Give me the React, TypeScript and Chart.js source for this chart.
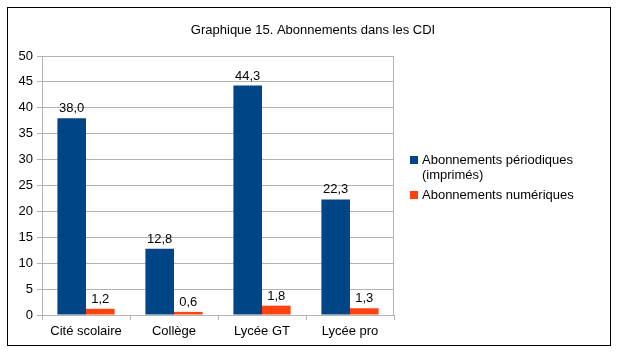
import React, { useEffect, useRef } from "react";
import { Chart, registerables } from "chart.js";

Chart.register(...registerables);

const categories = ["Cité scolaire", "Collège", "Lycée GT", "Lycée pro"];
const periodiques = [38.0, 12.8, 44.3, 22.3];
const numeriques = [1.2, 0.6, 1.8, 1.3];
const seriesNames = [["Abonnements périodiques", "(imprimés)"], ["Abonnements numériques"]];
const titleText = "Graphique 15. Abonnements dans les CDI";
const colors = ["#004586", "#ff420e"];

const FONT = "'Liberation Sans', Arial, sans-serif";

const decor = {
  id: "decor",
  beforeDraw(chart: any) {
    const ctx = chart.ctx;
    ctx.save();
    ctx.fillStyle = "#ffffff";
    ctx.fillRect(0, 0, chart.width, chart.height);
    ctx.restore();
  },
  afterDraw(chart: any) {
    const ctx = chart.ctx;
    const area = chart.chartArea;
    ctx.save();
    // outer border
    ctx.strokeStyle = "#000000";
    ctx.lineWidth = 1;
    ctx.strokeRect(7.5, 7.5, 603, 338);
    // right plot edge
    ctx.strokeStyle = "#b3b3b3";
    ctx.beginPath();
    ctx.moveTo(Math.round(area.right) - 0.5, area.top);
    ctx.lineTo(Math.round(area.right) - 0.5, area.bottom);
    ctx.stroke();
    // title
    ctx.fillStyle = "#000000";
    ctx.font = `13px ${FONT}`;
    ctx.textAlign = "center";
    ctx.textBaseline = "middle";
    ctx.fillText(titleText, 313, 30);
    // data labels
    ctx.font = `13px ${FONT}`;
    ctx.textBaseline = "alphabetic";
    chart.data.datasets.forEach((ds: any, di: number) => {
      const meta = chart.getDatasetMeta(di);
      meta.data.forEach((bar: any, i: number) => {
        const v = ds.data[i];
        ctx.fillText(v.toFixed(1).replace(".", ","), bar.x, bar.y - 6);
      });
    });
    // legend
    ctx.textAlign = "left";
    ctx.textBaseline = "middle";
    let y = 160;
    seriesNames.forEach((lines, i) => {
      ctx.fillStyle = colors[i];
      ctx.fillRect(410, y - 4, 8, 8);
      ctx.fillStyle = "#000000";
      lines.forEach((ln, j) => {
        ctx.fillText(ln, 422, y + j * 15);
      });
      y += lines.length * 15 + 5;
    });
    ctx.restore();
  },
};

export default function App() {
  const ref = useRef<HTMLCanvasElement>(null);
  useEffect(() => {
    const chart = new Chart(ref.current!, {
      type: "bar",
      data: {
        labels: categories,
        datasets: [
          { label: seriesNames[0].join(" "), data: periodiques, backgroundColor: colors[0] },
          { label: seriesNames[1].join(" "), data: numeriques, backgroundColor: colors[1] },
        ],
      },
      options: {
        responsive: false,
        animation: false,
        layout: { padding: { left: 0, top: 56, right: 225, bottom: 0 } },
        datasets: { bar: { categoryPercentage: 0.65, barPercentage: 1 } } as any,
        plugins: { legend: { display: false }, title: { display: false }, tooltip: { enabled: false } },
        scales: {
          x: {
            grid: { offset: true, drawOnChartArea: false, drawTicks: true, tickLength: 5, color: "#b3b3b3" },
            border: { color: "#b3b3b3" },
            ticks: { color: "#000000", font: { family: FONT, size: 13 }, padding: 4, maxRotation: 0 },
            afterFit(scale: any) { scale.height = 42; },
          },
          y: {
            min: 0,
            max: 50,
            ticks: { stepSize: 5, color: "#000000", font: { family: FONT, size: 13 }, padding: 4 },
            grid: { color: "#b3b3b3", tickLength: 5 },
            border: { color: "#b3b3b3" },
            afterFit(scale: any) { scale.width = 42; },
          },
        },
      },
      plugins: [decor],
    });
    return () => chart.destroy();
  }, []);
  return (
    <div style={{ position: "absolute", left: 0, top: 0, width: 619, height: 357 }}>
      <canvas ref={ref} width={619} height={357} />
    </div>
  );
}
